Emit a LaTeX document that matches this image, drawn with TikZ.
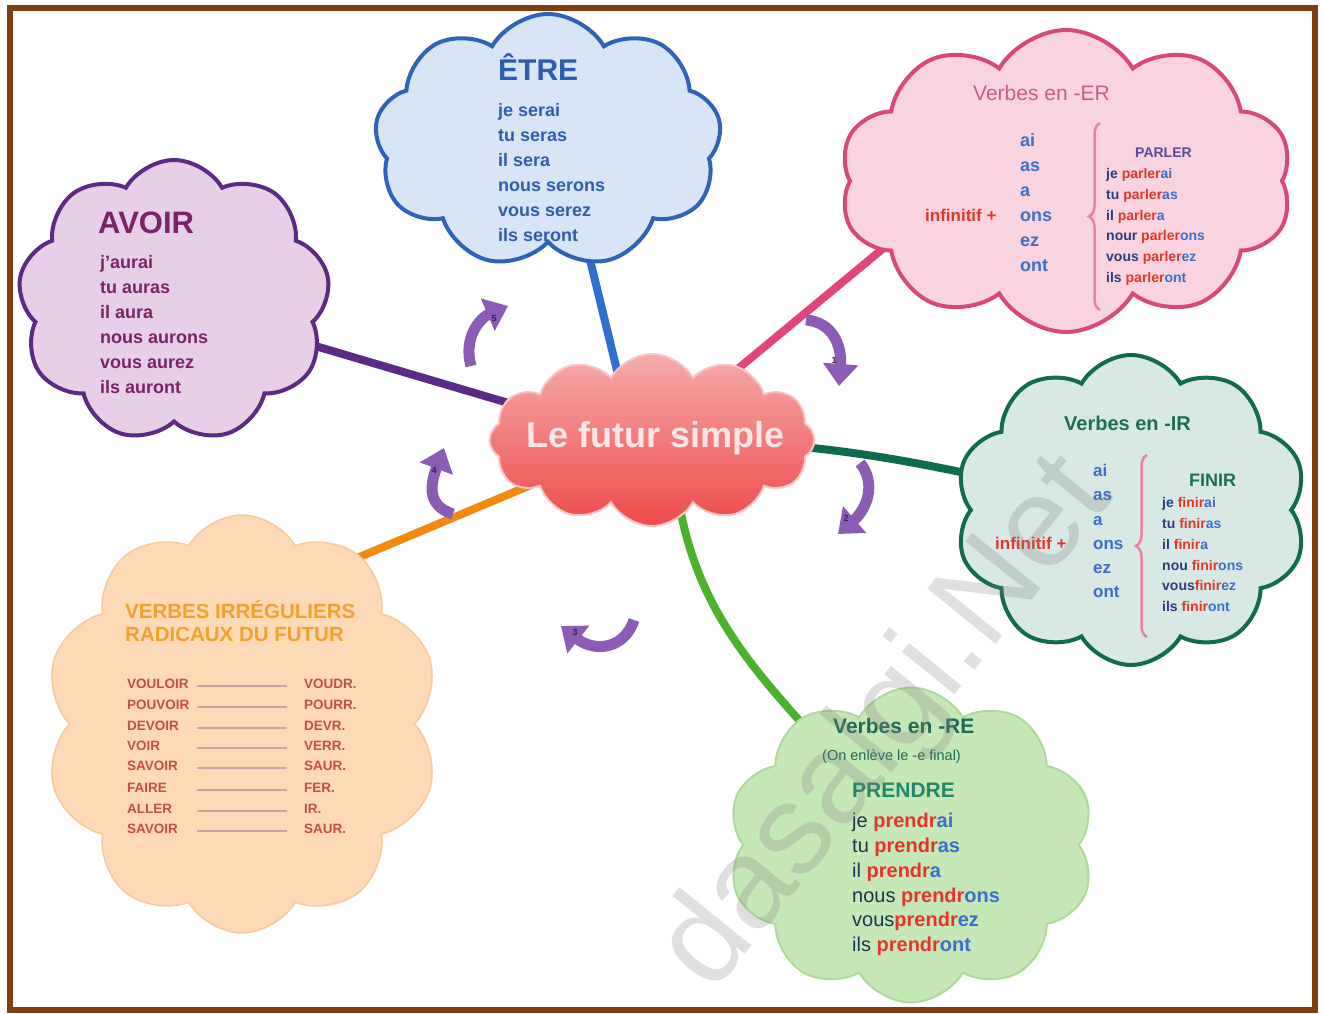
\documentclass[tikz,border=0pt]{standalone}
\usepackage{fontspec}
\setmainfont{Liberation Sans}
\usetikzlibrary{shapes.symbols,arrows.meta,decorations.pathreplacing,calc}
\pgfdeclarelayer{bg}
\pgfsetlayers{bg,main}
\newcommand\myfs[1]{\fontsize{#1}{#1}\selectfont}
\definecolor{frame}{HTML}{7E3F12}
\definecolor{avB}{HTML}{5C2A82}
\definecolor{avF}{HTML}{E8CFE8}
\definecolor{avT}{HTML}{7A2367}
\definecolor{etB}{HTML}{2E63B8}
\definecolor{etF}{HTML}{D7E5F7}
\definecolor{etT}{HTML}{2F5DAE}
\definecolor{erB}{HTML}{D9487A}
\definecolor{erF}{HTML}{FAD3E0}
\definecolor{erT}{HTML}{C65C8C}
\definecolor{irB}{HTML}{116B4F}
\definecolor{irF}{HTML}{D8E8E4}
\definecolor{irT}{HTML}{1E6E55}
\definecolor{reB}{HTML}{ADDA9A}
\definecolor{reF}{HTML}{C6E7B6}
\definecolor{reT}{HTML}{1E6B55}
\definecolor{reP}{HTML}{23876A}
\definecolor{irrF}{HTML}{FDD9B6}
\definecolor{irrB}{HTML}{F7C99E}
\definecolor{irrT}{HTML}{F2A22A}
\definecolor{irrR}{HTML}{C24E4E}
\definecolor{irrL}{HTML}{C9A5A5}
\definecolor{navy}{HTML}{2B3C80}
\definecolor{dk}{HTML}{1D3550}
\definecolor{rd}{HTML}{E2362B}
\definecolor{bl}{HTML}{3C6FC8}
\definecolor{parl}{HTML}{5A4A9A}
\definecolor{purp}{HTML}{8B5CB5}
\definecolor{numc}{HTML}{3A2050}
\definecolor{brc}{HTML}{EB7FA5}
\definecolor{cTop}{HTML}{F6ABAB}
\definecolor{cBot}{HTML}{EE4A4A}
\definecolor{cB}{HTML}{F8C6C6}
\definecolor{cTxt}{HTML}{FDE6E6}
\definecolor{lnPurple}{HTML}{5B2A86}
\definecolor{lnBlue}{HTML}{2F6FD2}
\definecolor{lnPink}{HTML}{E2457D}
\definecolor{lnTeal}{HTML}{0F6B4F}
\definecolor{lnGreen}{HTML}{4CB22E}
\definecolor{lnOrange}{HTML}{F28A12}
\tikzset{
  cl/.style={cloud, cloud puffs=#1, cloud puff arc=120, cloud ignores aspect, inner sep=0pt, line width=4pt},
  conn/.style={line width=8pt},
  tx/.style={anchor=west, inner sep=0pt, text height=0.72em, text depth=0pt},
  parr/.style={line width=11pt, draw=purp, -{Triangle[width=34pt,length=22pt]}},
  num/.style={inner sep=0pt, font=\bfseries\myfs{9}, text=numc},
  brace/.style={decorate, decoration={brace, amplitude=11pt}, draw=brc, line width=2.5pt}
}
\begin{document}
\begin{tikzpicture}[x=1pt,y=-1pt]
\useasboundingbox (0,0) rectangle (1323,1014);
% clouds
\node[cl=9, draw=avB, fill=avF, minimum width=312pt, minimum height=282pt] (avoir) at (174,301) {};
\node[cl=9, draw=etB, fill=etF, minimum width=347pt, minimum height=254pt] (etre) at (548,141) {};
\node[cl=10, draw=erB, fill=erF, minimum width=453pt, minimum height=302pt] (er) at (1066,181) {};
\node[cl=10, draw=irB, fill=irF, minimum width=352pt, minimum height=310pt] (ir) at (1131,510) {};
\node[cl=10, draw=reB, fill=reF, line width=2pt, minimum width=367pt, minimum height=315pt] (re) at (911,845) {};
\node[cl=10, draw=irrB, fill=irrF, line width=1.5pt, minimum width=395pt, minimum height=418pt] (irr) at (242,724) {};
\node[cl=12, draw=cB, top color=cTop, bottom color=cBot, line width=2pt, minimum width=325pt, minimum height=172pt] (c) at (652,440) {};
\node[font=\bfseries\myfs{36}, text=cTxt, inner sep=0pt] (ct) at (656,438) {Le futur simple};
% connectors
\begin{pgfonlayer}{bg}
\draw[conn, lnPurple] ($(avoir.center)+(26,11)$) -- ($(c.center)+(-52,-10)$);
\draw[conn, lnBlue] ($(etre.center)+(13,0)$) -- ($(c.center)+(-18,0)$);
\draw[conn, lnPink] (c.center) -- ($(er.center)+(-116,12)$);
\draw[conn, lnTeal] (c.center) .. controls ($(c.center)+(198,0)$) and ($(ir.center)+(-181,-40)$) .. (ir.center);
\draw[conn, lnGreen] ($(c.center)+(20,0)$) .. controls ($(c.center)+(30,190)$) and ($(re.center)+(-140,-165)$) .. (re.center);
\draw[conn, lnOrange] ($(c.center)+(-52,16)$) -- ($(irr.center)+(58,-142)$);
\end{pgfonlayer}
% AVOIR
\node[tx, font=\bfseries\myfs{31}, text=avT] (avh) at (98,230) {AVOIR};
\foreach \t [count=\i from 0] in {j'aurai, tu auras, il aura, nous aurons, vous aurez, ils auront}
  \node[tx, font=\bfseries\myfs{18}, text=avT] (av\i) at (100,265+25*\i) {\t};
% ETRE
\node[tx, font=\bfseries\myfs{30}, text=etT] (eth) at (498,77) {ÊTRE};
\foreach \t [count=\i from 0] in {je serai, tu seras, il sera, nous serons, vous serez, ils seront}
  \node[tx, font=\bfseries\myfs{18}, text=etT] (et\i) at (498,113+25*\i) {\t};
% ER
\node[tx, font=\myfs{21}, text=erT] (erh) at (973,97) {Verbes en -ER};
\foreach \t [count=\i from 0] in {ai, as, a, ons, ez, ont}
  \node[tx, font=\bfseries\myfs{18}, text=bl] (ere\i) at (1020,143+25*\i) {\t};
\node[tx, font=\bfseries\myfs{17}, text=rd] (erinf) at (925,218) {infinitif +};
\draw[brace] (1100,310) -- (1100,123);
\node[tx, font=\bfseries\myfs{14}, text=parl] (parler) at (1135,154) {PARLER};
\foreach \p/\e [count=\i from 0] in {je /ai, tu /as, il /a, nour /ons, vous /ez, ils /ont}
  \node[tx, font=\bfseries\myfs{14}] (erc\i) at (1106,175+20.7*\i) {\textcolor{navy}{\p}\textcolor{rd}{parler}\textcolor{bl}{\e}};
% IR
\node[tx, font=\bfseries\myfs{20}, text=irT] (irh) at (1064,427) {Verbes en -IR};
\foreach \t [count=\i from 0] in {ai, as, a, ons, ez, ont}
  \node[tx, font=\bfseries\myfs{17}, text=bl] (ire\i) at (1093,473+24.2*\i) {\t};
\node[tx, font=\bfseries\myfs{17}, text=rd] (irinf) at (995,546) {infinitif +};
\draw[brace] (1147,637) -- (1147,455);
\node[tx, font=\bfseries\myfs{18}, text=irT] (finir) at (1189,483) {FINIR};
\foreach \p/\e [count=\i from 0] in {je /ai, tu /as, il /a, nou /ons, vous/ez, ils /ont}
  \node[tx, font=\bfseries\myfs{14}] (irc\i) at (1162,504+20.8*\i) {\textcolor{navy}{\p}\textcolor{rd}{finir}\textcolor{bl}{\e}};
% RE
\node[tx, font=\bfseries\myfs{21}, text=reT] (reh) at (833,730) {Verbes en -RE};
\node[tx, font=\myfs{14.5}, text=reT] (resub) at (822,757) {(On enlève le -e final)};
\node[tx, font=\bfseries\myfs{21}, text=reP] (prendre) at (852,794) {PRENDRE};
\foreach \p/\e [count=\i from 0] in {je /ai, tu /as, il /a, nous /ons, vous/ez, ils /ont}
  \node[tx, font=\myfs{20}] (rec\i) at (852,824+24.8*\i) {\textcolor{dk}{\p}\textbf{\textcolor{rd}{prendr}\textcolor{bl}{\e}}};
% irregular
\node[tx, font=\bfseries\myfs{20.5}, text=irrT] (irh1) at (125,615) {VERBES IRRÉGULIERS};
\node[tx, font=\bfseries\myfs{20.5}, text=irrT] (irh2) at (125,638) {RADICAUX DU FUTUR};
\foreach \l/\r/\y [count=\i from 0] in {VOULOIR/VOUDR./685, POUVOIR/POURR./706, DEVOIR/DEVR./727, VOIR/VERR./747, SAVOIR/SAUR./767, FAIRE/FER./789, ALLER/IR./810, SAVOIR/SAUR./830}{
  \node[tx, font=\bfseries\myfs{13.5}, text=irrR] (iL\i) at (127,\y) {\l};
  \node[tx, font=\bfseries\myfs{13.5}, text=irrR] (iR\i) at (304,\y) {\r};
  \draw[irrL, line width=1.3pt] ($(iL\i.west)+(70,1)$) -- ($(iR\i.west)+(-17,1)$);
}
% purple arrows
\draw[parr] (806,320) .. controls (832,322) and (842,345) .. (839,386);
\draw[parr] (860,463) .. controls (876,482) and (868,508) .. (838,534);
\draw[parr] (634,620) .. controls (624,650) and (594,652) .. (561,626);
\draw[parr] (453,514) .. controls (424,505) and (432,480) .. (444,448);
\draw[parr] (471,366) .. controls (463,338) and (480,318) .. (508,306);
\node[num] (n1) at (834,360) {1};
\node[num] (n2) at (846,518) {2};
\node[num] (n3) at (575,632) {3};
\node[num] (n4) at (434,470) {4};
\node[num] (n5) at (494,318) {5};
% watermark
\node[rotate=51, font=\myfs{128}, text=gray, text opacity=0.25, anchor=base west, inner sep=0pt] (wm) at (712,995) {dasalgi.Net};
% frame
\draw[line width=6pt, draw=frame] (10,8) rectangle (1315,1010);
\end{tikzpicture}
\end{document}
